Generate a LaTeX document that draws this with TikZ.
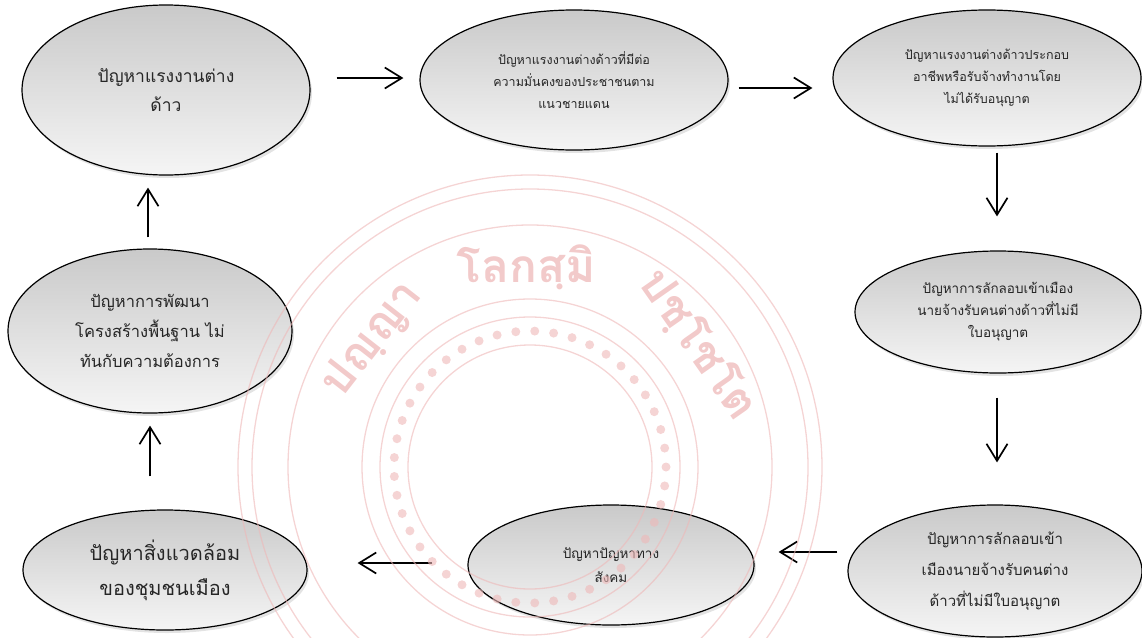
\documentclass[tikz,border=0pt]{standalone}
\usepackage{fontspec}
\setmainfont[Script=Thai]{Loma}
\usepackage{tikz}
\usetikzlibrary{arrows.meta, positioning, shapes.geometric, shadows, calc}

\definecolor{sealred}{RGB}{238,184,184}
\definecolor{sealtext}{RGB}{234,166,166}

\tikzset{
  problem/.style={ellipse, draw=black, line width=1.2pt, top color=black!21, bottom color=black!4,
    text=black!85, align=center, inner sep=0pt,
    drop shadow={shadow xshift=2pt, shadow yshift=-3pt, opacity=0.22}},
  bigtext/.style={font=\fontsize{17.5}{29}\selectfont},
  infratext/.style={font=\fontsize{16.5}{30}\selectfont},
  largetext/.style={font=\fontsize{20}{35}\selectfont},
  midtext/.style={font=\fontsize{13.5}{24}\selectfont},
  smalltext/.style={font=\fontsize{12.5}{22}\selectfont},
  rowtext/.style={font=\fontsize{13.5}{22}\selectfont},
  basetext/.style={font=\fontsize{15}{31}\selectfont},
}

\begin{document}
\begin{tikzpicture}[x=1pt, y=-1pt,
    ->,
    >={Straight Barb[length=17pt, width=21pt]},
    line width=1.7pt]

  \useasboundingbox (0,0) rectangle (1142,637);

  \node[problem, bigtext, minimum width=288pt, minimum height=170pt] (labour) at (166,90) {ปัญหาแรงงานต่าง\\ด้าว};
  \node[problem, smalltext, minimum width=308pt, minimum height=140pt] (security) at (574,80) {ปัญหาแรงงานต่างด้าวที่มีต่อ\\ความมั่นคงของประชาชนตาม\\แนวชายแดน};
  \node[problem, smalltext, minimum width=308pt, minimum height=136pt] (unlicensed) at (987,78) {ปัญหาแรงงานต่างด้าวประกอบ\\อาชีพหรือรับจ้างทำงานโดย\\ไม่ได้รับอนุญาต};
  \node[problem, rowtext, minimum width=286pt, minimum height=122pt] (smuggle) at (998,312) {ปัญหาการลักลอบเข้าเมือง\\นายจ้างรับคนต่างด้าวที่ไม่มี\\ใบอนุญาต};
  \node[problem, basetext, minimum width=294pt, minimum height=132pt] (employer) at (995,571) {ปัญหาการลักลอบเข้า\\เมืองนายจ้างรับคนต่าง\\ด้าวที่ไม่มีใบอนุญาต};
  \node[problem, midtext, minimum width=286pt, minimum height=120pt] (social) at (611,565) {ปัญหาปัญหาทาง\\สังคม};
  \node[problem, largetext, minimum width=284pt, minimum height=120pt] (environ) at (165,570) {ปัญหาสิ่งแวดล้อม\\ของชุมชนเมือง};
  \node[problem, infratext, minimum width=284pt, minimum height=164pt] (infra) at (150,331) {ปัญหาการพัฒนา\\โครงสร้างพื้นฐาน ไม่\\ทันกับความต้องการ};

  % the cycle of problems
  \draw[shorten <=26pt, shorten >=16pt] ([yshift=12pt]labour.east) -- ([yshift=2pt]security.west);
  \draw[shorten <=10pt, shorten >=20pt] ([yshift=-8pt]security.east) -- ([yshift=-10pt]unlicensed.west);
  \draw[shorten <=6pt, shorten >=34pt] ([xshift=10pt]unlicensed.south) -- ([xshift=-1pt]smuggle.north);
  \draw[shorten <=24pt, shorten >=42pt] ([xshift=-1pt]smuggle.south) -- ([xshift=2pt]employer.north);
  \draw[shorten <=10pt, shorten >=24pt] ([yshift=19pt]employer.west) -- ([yshift=13pt]social.east);
  \draw[shorten <=35pt, shorten >=50pt] ([yshift=2pt]social.west) -- ([yshift=7pt]environ.east);
  \draw[shorten <=33pt, shorten >=12pt] ([xshift=-15pt]environ.north) -- (infra.south);
  \draw[shorten <=11pt, shorten >=12pt] ([xshift=-2pt]infra.north) -- ([xshift=-18pt]labour.south);

  % watermark seal
  \begin{scope}[-, draw=sealred, line width=1.3pt, opacity=0.6]
    \clip (0,0) rectangle (1142,637);
    \coordinate (seal) at (530,467);
    \draw (seal) circle (292pt);
    \draw (seal) circle (278pt);
    \draw (seal) circle (242pt);
    \draw (seal) circle (168pt);
    \draw (seal) circle (150pt);
    \foreach \a in {0,8,...,352}
      \fill[sealred] ($(seal)+(\a:136pt)$) circle (4.5pt);
    \draw (seal) circle (122pt);
    \node[text=sealtext, font=\fontsize{46}{50}\selectfont\bfseries, rotate=52] (mottoleft) at ($(seal)+(141:202pt)$) {ปญฺญา};
    \node[text=sealtext, font=\fontsize{46}{50}\selectfont\bfseries] (mottotop) at ($(seal)+(91:200pt)$) {โลกสฺมิ};
    \node[text=sealtext, font=\fontsize{46}{50}\selectfont\bfseries, rotate=-55] (mottoright) at ($(seal)+(36:208pt)$) {ปชฺโชโต};
  \end{scope}
\end{tikzpicture}
\end{document}
